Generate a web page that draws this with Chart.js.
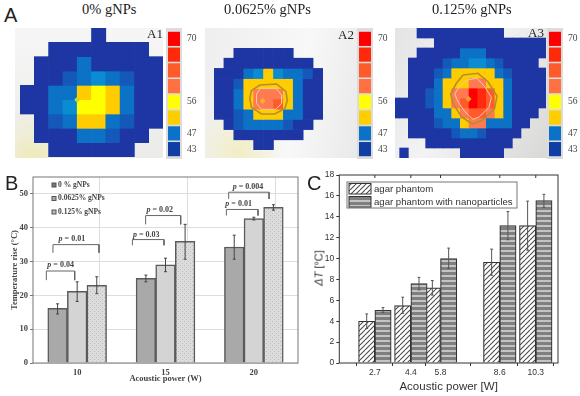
<!DOCTYPE html>
<html><head><meta charset="utf-8">
<script src="https://cdn.jsdelivr.net/npm/chart.js@4"></script>
<style>
html,body{margin:0;padding:0;background:#fff;width:580px;height:396px;overflow:hidden}
body{position:relative}
canvas,.t,.bg,.frame{position:absolute;display:block}
.wrap{position:absolute;overflow:hidden}
.t{white-space:nowrap;line-height:1;color:#222}
.serif{font-family:"Liberation Serif",serif}
.sans{font-family:"Liberation Sans",sans-serif}
.soft{filter:blur(.45px)}
.softer{filter:blur(.6px)}
</style></head><body>
<div class="bg" style="left:15px;top:28px;width:148px;height:130px;background:radial-gradient(circle at 12% 100%,#eeeab8 0,#efeed8 14%,transparent 28%),linear-gradient(#f6f6f6,#ebebe9)"></div>
<div class="bg" style="left:205px;top:28px;width:153px;height:130px;background:radial-gradient(circle at 22% 95%,#f1eec4 0,transparent 26%),linear-gradient(100deg,#eeeeee,#f8f8f8 60%,#e9e9e9)"></div>
<div class="bg" style="left:395px;top:28px;width:152px;height:130px;background:linear-gradient(120deg,#e4e4e4,#f3f3f3 45%,#d8d8d6)"></div>
<div class="frame" style="left:166px;top:28px;width:16px;height:131px;background:#dcdcdc"></div>
<div class="frame" style="left:357px;top:28px;width:16px;height:131px;background:#dcdcdc"></div>
<div class="frame" style="left:547px;top:28px;width:16px;height:131px;background:#dcdcdc"></div>

<canvas id="a1" class="soft" width="143" height="129" style="left:20px;top:28px"></canvas>
<canvas id="a2" class="soft" width="109" height="102" style="left:214px;top:48px"></canvas>
<div class="wrap soft" style="left:395px;top:28px;width:151px;height:130px"><canvas id="a3" width="156" height="130" style="left:-4px;top:0"></canvas></div>
<canvas id="c1" class="soft" width="32" height="126" style="left:168px;top:31px"></canvas>
<canvas id="c2" class="soft" width="32" height="126" style="left:359px;top:31px"></canvas>
<canvas id="c3" class="soft" width="32" height="126" style="left:549px;top:31px"></canvas>
<canvas id="b" class="softer" width="300" height="231" style="left:0;top:165px"></canvas>
<canvas id="c" class="soft" width="280" height="231" style="left:300px;top:165px"></canvas>

<div class="t sans" style="left:4px;top:5px;font-size:20px">A</div>
<div class="t sans" style="left:5px;top:173px;font-size:20px">B</div>
<div class="t sans" style="left:307px;top:173px;font-size:20px">C</div>
<div class="t serif" style="left:82px;top:2px;font-size:14.5px">0% gNPs</div>
<div class="t serif" style="left:224px;top:2px;font-size:14.5px">0.0625% gNPs</div>
<div class="t serif" style="left:432px;top:2px;font-size:14.5px">0.125% gNPs</div>
<div class="t serif" style="left:147px;top:27px;font-size:13px">A1</div>
<div class="t serif" style="left:338px;top:28px;font-size:13px">A2</div>
<div class="t serif" style="left:528px;top:26px;font-size:13px">A3</div>
<div class="t sans soft" style="left:319px;top:268px;font-size:11px;color:#333;transform:translate(-50%,-50%) rotate(-90deg)"><i>&Delta;T</i> [&deg;C]</div>

<script>
// ---- Panel A data: level of each map cell (0 = no cell)
const mapA1 = [
 [0,0,0,0,0,1,0,0,0,0],
 [0,0,1,1,1,1,1,1,1,0],
 [0,1,1,1,3,1,1,1,1,1],
 [0,1,1,2,3,4,3,2,1,1],
 [1,1,3,3,5,6,5,3,1,1],
 [1,1,3,4,6,6,5,3,1,1],
 [0,1,2,3,5,5,3,2,1,1],
 [0,1,1,1,3,3,2,1,1,0],
 [0,0,1,1,1,1,1,1,0,0]
];
const mapA2 = [
 [0,0,1,1,1,1,1,1,0,0,0],
 [0,1,1,1,1,1,1,1,1,1,0],
 [1,1,1,3,4,5,4,3,3,2,1],
 [1,1,2,5,5,5,5,5,3,1,1],
 [1,1,3,5,7,7,7,5,3,1,1],
 [1,1,3,5,7,7,8,5,3,1,1],
 [1,1,2,3,5,5,5,3,3,1,1],
 [0,1,2,3,3,3,3,2,1,1,0],
 [0,0,1,1,1,1,1,1,1,0,0],
 [0,0,0,0,1,1,0,0,0,0,0]
];
const mapA3 = [
 [0,0,0,1,1,1,1,1,1,1,1,1,1,0,0,0,0,0],
 [0,0,0,0,0,1,1,1,1,1,1,1,1,1,1,1,1,1],
 [0,0,0,1,1,1,1,1,3,3,3,1,1,1,1,1,1,1],
 [0,0,1,1,1,1,2,3,3,4,4,3,2,1,1,1,1,0],
 [0,0,1,1,1,2,3,5,5,5,5,5,3,2,1,1,1,1],
 [0,0,1,1,1,3,5,5,5,7,7,5,5,3,1,1,1,1],
 [0,0,1,1,2,3,5,7,7,10,9,8,5,3,1,1,1,1],
 [1,1,1,1,2,3,5,7,8,10,9,8,5,3,1,1,1,1],
 [1,1,1,1,1,3,3,5,7,8,8,7,5,3,1,1,1,0],
 [0,0,1,1,1,2,3,3,5,7,7,3,3,3,1,1,0,0],
 [0,0,1,1,1,1,1,2,3,3,2,1,1,1,1,0,0,0],
 [0,0,0,0,1,1,1,1,1,1,1,1,1,1,0,0,0,0],
 [0,1,0,0,0,0,0,0,1,1,1,1,1,0,0,0,0,0]
];
const levelColors = [null,'#1d36a3','#1458b9','#0b72c6','#0a8bd2','#ffcc00','#ffff00','#ff7a50','#ff5a2a','#ff2a10','#ff0000'];
const contourA2Outer = [[4.63,3.63],[6.32,3.53],[7.26,4.28],[7.4,5.1],[7.16,5.92],[6.15,6.47],[4.8,6.47],[3.78,5.82],[3.61,4.93],[3.78,4.18],[4.63,3.63]];
const contourA2Inner = [[4.7,3.95],[6.25,3.95],[6.82,4.61],[6.82,5.42],[6.25,6.01],[4.8,6.01],[4.29,5.42],[4.29,4.51],[4.7,3.95]];
const contourA3Outer = [[8.31,4.7],[10.04,4.53],[11.19,5.37],[12.23,6.8],[11.96,8.03],[10.62,9.2],[9.38,9.6],[8.12,8.87],[7.15,7.53],[6.88,6.6],[7.54,5.53],[8.31,4.7]];
const contourA3Inner = [[8.77,5.2],[9.92,5.03],[10.81,5.87],[11.58,6.93],[11.31,7.93],[10.23,8.87],[9.46,9.13],[8.5,8.37],[7.73,7.37],[7.35,6.6],[7.92,5.8],[8.77,5.2]];
const hotSpotA1 = [4.0,5.0], hotSpotA2 = [4.9,5.2], hotSpotA3 = [8.95,7.1];
// Colour scale
const scaleLabels = ['70','','','','56','','47','43'];
const scaleValues = [1,1,1,1,1,1,1,1];
const scaleColors = ['#ff0000','#ff2a0a','#ff5a2a','#ff7043','#ffff00','#ffce00','#0a72c8','#0f3ea5'];

// ---- Panel B data
const powersB = ['10','15','20'];
const namesB = ['0 % gNPs','0.0625% gNPs','0.125% gNPs'];
const riseB0 = [16.2,25,34.3];
const riseB1 = [21.2,29,42.7];
const riseB2 = [23,36,46];
const lowB0 = [14.5,24,30.7], highB0 = [17.5,26,37.8];
const lowB1 = [18.2,27,42.3], highB1 = [24,31,43.1];
const lowB2 = [20.5,30.7,45.2], highB2 = [25.5,41,46.8];
const pText = ['0.04','0.01','0.03','0.02','0.01','0.004'];
const pAt = [[.313,28.9],[.44,36.7],[1.283,37.9],[1.434,45.4],[2.328,46.9],[2.434,52.2]];
const brackets = [[.151,.472,27.2,24.5],[.226,.747,35,32.6],[1.125,1.483,36.5,34.8],[1.275,1.672,43.6,41],[2.189,2.547,45.4,43.6],[2.215,2.672,50.5,48.5]];

// ---- Panel C data
const powersC = [2.7,4.4,5.8,8.6,10.3];
const agar = [4.0,5.5,7.2,9.65,13.15];
const agarNano = [5.05,7.6,10,13.15,15.55];
const lowAgar = [3.3,4.75,6.5,8.4,10.8], highAgar = [4.7,6.3,7.9,10.9,15.5];
const lowNano = [4.85,7.0,9.05,11.8,14.9], highNano = [5.3,8.2,11,14.5,16.15];
const namesC = ['agar phantom','agar phantom with nanoparticles'];

// ---- helpers
function hatch(draw,w,h){const c=document.createElement('canvas');c.width=w;c.height=h;const x=c.getContext('2d');draw(x,w,h);return x.createPattern(c,'repeat');}
const diagFill = hatch((x,w,h)=>{x.fillStyle='#fff';x.fillRect(0,0,w,h);x.strokeStyle='#4a4a4a';x.lineWidth=1.1;
  for(const o of [-w,0,w]){x.beginPath();x.moveTo(o,h);x.lineTo(o+w,0);x.stroke();}},5,5);
const stripeFill = hatch((x,w,h)=>{x.fillStyle='#7f7f7f';x.fillRect(0,0,w,h);x.fillStyle='#c4c4c4';x.fillRect(0,0,w,2);},5,5);
const dotFill = hatch((x,w,h)=>{x.fillStyle='#dcdcdc';x.fillRect(0,0,w,h);x.fillStyle='#bdbdbd';x.fillRect(0,0,1,1);x.fillRect(2,2,1,1);},4,4);

function heat(id,grid,extras,dot){
  const rows=grid.length, cols=grid[0].length;
  const ds=grid.map((row,r)=>{
    const cells=[],fills=[];
    row.forEach((v,c)=>{if(v){cells.push({x:c+.5,y:[r,r+1]});fills.push(levelColors[v]);}});
    return {type:'bar',order:1,grouped:false,barPercentage:1,categoryPercentage:1,borderWidth:0,data:cells,backgroundColor:fills};
  });
  extras.forEach(e=>ds.push({type:'scatter',order:0,showLine:true,pointRadius:0,borderColor:e.color,borderWidth:e.width,
    data:e.path.map(p=>({x:p[0],y:p[1]}))}));
  ds.push({type:'scatter',order:0,pointStyle:'rectRot',pointRadius:3,backgroundColor:dot.color,borderWidth:0,data:[{x:dot.at[0],y:dot.at[1]}]});
  new Chart(document.getElementById(id),{type:'bar',data:{datasets:ds},
    options:{responsive:false,animation:false,layout:{padding:0,autoPadding:false},
      plugins:{legend:{display:false},tooltip:{enabled:false}},
      scales:{x:{type:'linear',display:false,min:0,max:cols,offset:false,afterBuildTicks(a){a.ticks=[{value:0},{value:cols}];}},
              y:{type:'linear',display:false,min:0,max:rows,reverse:true}}}});
}
heat('a1',mapA1,[],{at:hotSpotA1,color:'#c6d92a'});
heat('a2',mapA2,[{path:contourA2Outer,color:'#b48e2e',width:1.6},{path:contourA2Inner,color:'#f7c9b4',width:1}],{at:hotSpotA2,color:'#f7b32a'});
heat('a3',mapA3,[{path:contourA3Outer,color:'#b48e2e',width:1.6},{path:contourA3Inner,color:'#f7c9b4',width:1}],{at:hotSpotA3,color:'#f7a52a'});

function colorScale(id){
  new Chart(document.getElementById(id),{type:'bar',data:{labels:scaleLabels,datasets:[{data:scaleValues,backgroundColor:scaleColors,borderWidth:0,barPercentage:.9,categoryPercentage:1}]},
   options:{indexAxis:'y',responsive:false,animation:false,layout:{padding:0,autoPadding:false},plugins:{legend:{display:false},tooltip:{enabled:false}},
    scales:{x:{display:false,min:0,max:1},
      y:{position:'right',afterFit(a){a.width=20;a.paddingTop=0;a.paddingBottom=0;},grid:{display:false,drawTicks:false},border:{display:false},
         ticks:{autoSkip:false,padding:7,color:'#444',font:{family:'"Liberation Serif",serif',size:9.5}}}}}});
}
['c1','c2','c3'].forEach(colorScale);

const errorBars={id:'errorBars',afterDatasetsDraw(ch,_,o){
  const y=ch.scales.y,c=ch.ctx;c.save();c.strokeStyle=o.color;c.lineWidth=o.width;
  o.sets.forEach((s)=>{const m=ch.getDatasetMeta(s.index);
    m.data.forEach((el,i)=>{const yl=y.getPixelForValue(s.low[i]),yh=y.getPixelForValue(s.high[i]);
      c.beginPath();c.moveTo(el.x,yl);c.lineTo(el.x,yh);c.moveTo(el.x-o.cap,yl);c.lineTo(el.x+o.cap,yl);c.moveTo(el.x-o.cap,yh);c.lineTo(el.x+o.cap,yh);c.stroke();});});
  c.restore();}};

// ---- Panel B
const serifFont='"Liberation Serif",serif';
const groupAt=powersB.map((_,i)=>i+.5);
const dsB=[
 {label:namesB[0],data:riseB0.map((v,i)=>({x:groupAt[i],y:v})),backgroundColor:'#a9a9a9'},
 {label:namesB[1],data:riseB1.map((v,i)=>({x:groupAt[i],y:v})),backgroundColor:'#d4d4d4'},
 {label:namesB[2],data:riseB2.map((v,i)=>({x:groupAt[i],y:v})),backgroundColor:dotFill}
].map(d=>Object.assign(d,{borderColor:'#5a5a5a',borderWidth:1.5,barThickness:19.6,order:2}));
brackets.forEach(b=>dsB.push({type:'scatter',order:1,showLine:true,pointRadius:0,borderColor:'#666',borderWidth:1,
  data:[{x:b[0],y:b[3]},{x:b[0],y:b[2]},{x:b[1],y:b[2]},{x:b[1],y:b[3]}]}));
const panelB={id:'panelB',afterDraw(ch){
  const {ctx:c,chartArea:a}=ch,xs=ch.scales.x,y=ch.scales.y;c.save();
  c.strokeStyle='#777';c.lineWidth=1;c.strokeRect(a.left,a.top,a.right-a.left,a.bottom-a.top);
  c.fillStyle='#444';c.textBaseline='middle';
  pText.forEach((t,i)=>{const px=xs.getPixelForValue(pAt[i][0]),py=y.getPixelForValue(pAt[i][1]);
    c.font='italic bold 8px '+serifFont;const w1=c.measureText('p').width;
    const rest=' = '+t;c.font='bold 8px '+serifFont;const w2=c.measureText(rest).width;
    let sx=px-(w1+w2)/2;c.textAlign='left';
    c.font='italic bold 8px '+serifFont;c.fillText('p',sx,py);
    c.font='bold 8px '+serifFont;c.fillText(rest,sx+w1,py);});
  const fills=['#777','#aaa','#bbb'],ly=[20,33.5,47];
  namesB.forEach((n,i)=>{c.fillStyle=fills[i];c.strokeStyle='#555';c.fillRect(52,ly[i]-2,4,4);c.strokeRect(52,ly[i]-2,4,4);
    c.fillStyle='#444';c.font='bold 7.5px '+serifFont;c.textAlign='left';c.fillText(n,58,ly[i]);});
  c.restore();}};
const isGroupTick=v=>groupAt.includes(v);
new Chart(document.getElementById('b'),{type:'bar',data:{datasets:dsB},plugins:[errorBars,panelB],
 options:{responsive:false,animation:false,layout:{padding:{left:0,right:2,top:12,bottom:0},autoPadding:false},
  plugins:{legend:{display:false},tooltip:{enabled:false},
    errorBars:{color:'#444',width:1,cap:1.5,sets:[{index:0,low:lowB0,high:highB0},{index:1,low:lowB1,high:highB1},{index:2,low:lowB2,high:highB2}]}},
  scales:{
   x:{type:'linear',min:0,max:powersB.length,offset:false,
      afterBuildTicks(a){a.ticks=[.5,1,1.5,2,2.5].map(v=>({value:v}));},afterFit(a){a.height=33;},
      grid:{color:c=>(c.tick&&isGroupTick(c.tick.value))?'transparent':'#dedede',borderDash:[2,2],drawTicks:false},border:{display:false},
      ticks:{autoSkip:false,maxRotation:0,padding:5,color:'#444',callback:v=>isGroupTick(v)?powersB[groupAt.indexOf(v)]:'',font:{family:serifFont,size:8.5,weight:'bold'}},
      title:{display:true,text:'Acoustic power (W)',color:'#444',padding:{top:1,bottom:12},font:{family:serifFont,size:8.5,weight:'bold'}}},
   y:{min:0,max:55,afterFit(a){a.width=33;},grid:{color:'#dedede',borderDash:[2,2],tickLength:3,tickColor:'#777'},border:{display:false},
      ticks:{stepSize:10,includeBounds:false,padding:2,color:'#444',font:{family:serifFont,size:8.5,weight:'bold'}},
      title:{display:true,text:'Temperature rise (\u00b0C)',color:'#444',padding:{top:10,bottom:0},font:{family:serifFont,size:8.5,weight:'bold'}}}}}});

// ---- Panel C
const sansFont='"Liberation Sans",sans-serif';
const sideOffset=0.385, barWidthC=16.3;
const dsC=[
 {label:namesC[0],order:2,data:powersC.map((p,i)=>({x:p-sideOffset,y:agar[i]})),backgroundColor:diagFill},
 {label:namesC[1],order:1,data:powersC.map((p,i)=>({x:p+sideOffset,y:agarNano[i]})),backgroundColor:stripeFill}
].map(d=>Object.assign(d,{borderColor:'#333',borderWidth:1.2,grouped:false,barThickness:barWidthC}));
const panelC={id:'panelC',afterDraw(ch){
  const {ctx:c,chartArea:a}=ch,x=ch.scales.x;c.save();
  c.strokeStyle='#333';c.lineWidth=1;c.strokeRect(a.left,a.top,a.right-a.left,a.bottom-a.top);
  c.beginPath();powersC.forEach(p=>{const px=x.getPixelForValue(p);c.moveTo(px,a.top);c.lineTo(px,a.top+3);});c.stroke();
  const lx=47,ly=17,lw=170,lh=26;
  c.fillStyle='#fff';c.fillRect(lx,ly,lw,lh);c.strokeStyle='#777';c.strokeRect(lx,ly,lw,lh);
  [diagFill,stripeFill].forEach((f,i)=>{const sy=ly+1.5+i*13;c.fillStyle=f;c.fillRect(lx+2,sy,22,10.5);c.strokeStyle='#333';c.strokeRect(lx+2,sy,22,10.5);
    c.fillStyle='#333';c.font='9.6px '+sansFont;c.textBaseline='middle';c.textAlign='left';c.fillText(namesC[i],lx+27,sy+5.5);});
  c.restore();}};
new Chart(document.getElementById('c'),{type:'bar',data:{datasets:dsC},plugins:[errorBars,panelC],
 options:{responsive:false,animation:false,layout:{padding:{left:0,right:22,top:10,bottom:0}},
  plugins:{legend:{display:false},tooltip:{enabled:false},
    errorBars:{color:'#555',width:1,cap:1.4,sets:[{index:0,low:lowAgar,high:highAgar},{index:1,low:lowNano,high:highNano}]}},
  scales:{
   x:{type:'linear',min:1.02,max:11.35,offset:false,afterBuildTicks(a){a.ticks=powersC.map(v=>({value:v}));},afterFit(a){a.height=33;},
      grid:{drawOnChartArea:false,tickLength:3,tickColor:'#333'},border:{display:false},
      ticks:{padding:2,color:'#333',autoSkip:false,callback:v=>String(v),font:{family:sansFont,size:8.5}},
      title:{display:true,text:'Acoustic power [W]',color:'#333',padding:{top:3,bottom:2},font:{family:sansFont,size:11.5}}},
   y:{min:0,max:18,afterFit(a){a.width=39.3;},grid:{drawOnChartArea:false,tickLength:3,tickColor:'#333'},border:{display:false},
      ticks:{stepSize:2,padding:2,color:'#333',font:{family:sansFont,size:8.5}}}}}});
</script>
</body></html>
